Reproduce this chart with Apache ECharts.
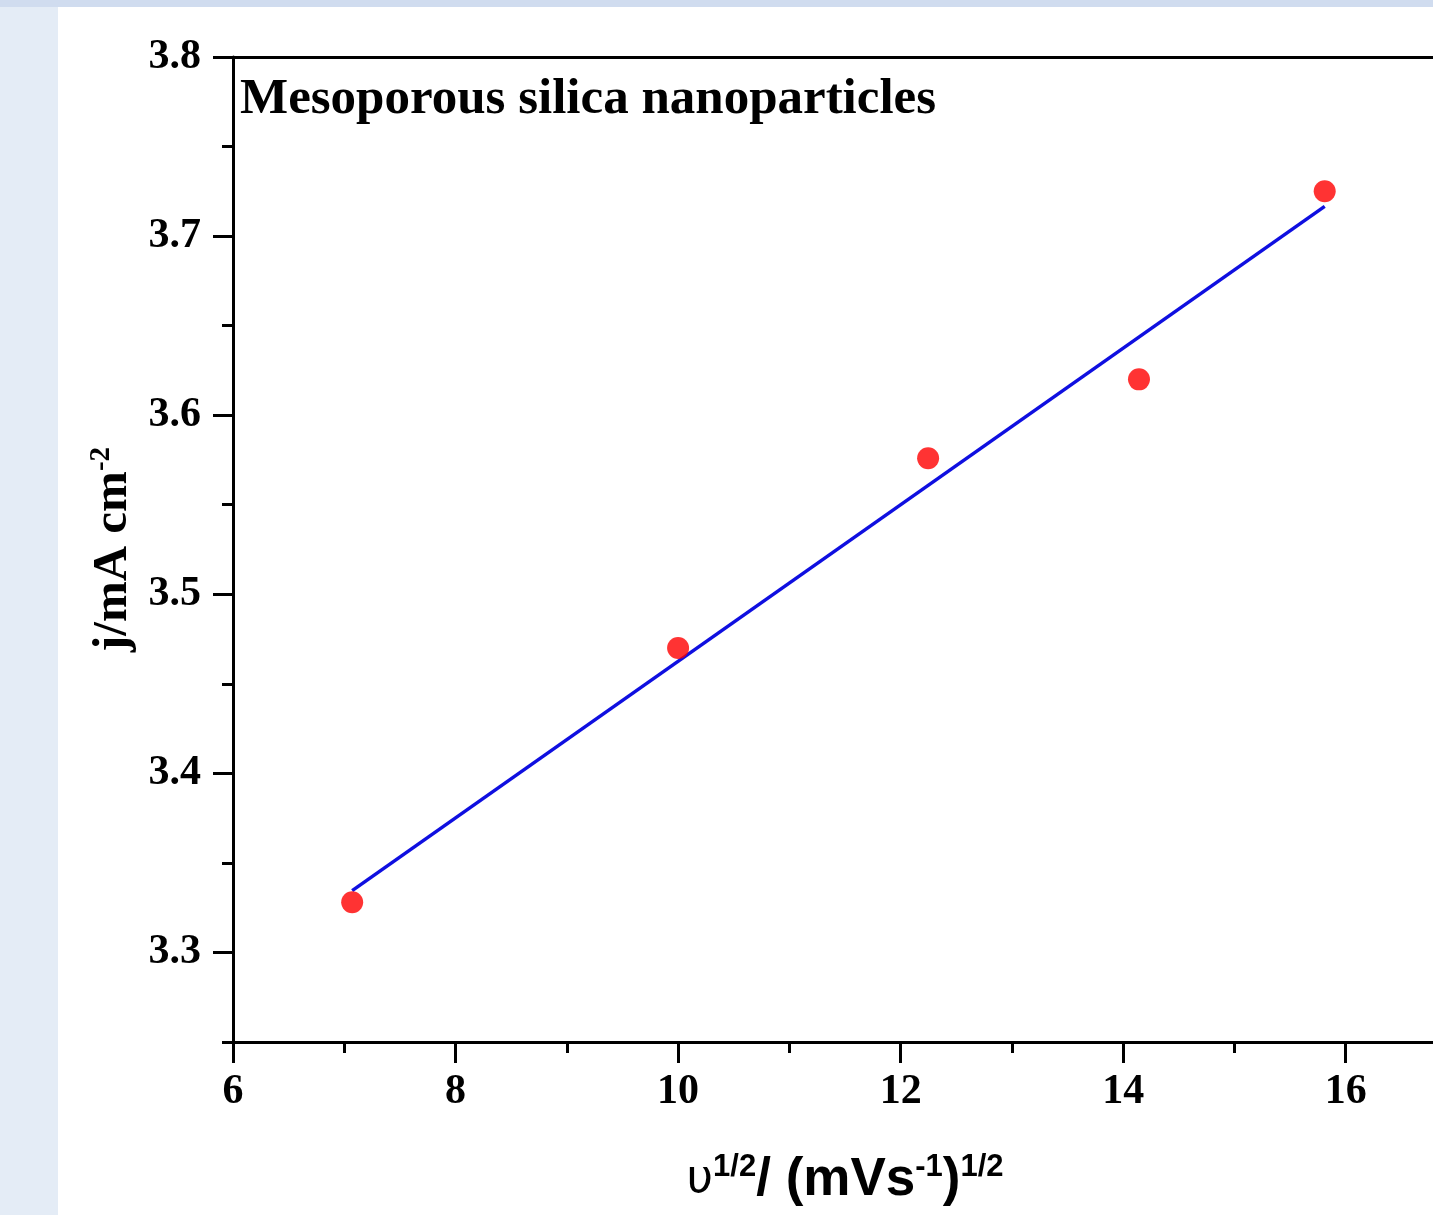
<!DOCTYPE html>
<html>
<head>
<meta charset="utf-8">
<title>Mesoporous silica nanoparticles</title>
<script src="https://cdn.jsdelivr.net/npm/echarts@6/dist/echarts.min.js"></script>
<style>
  html, body { margin: 0; padding: 0; background: #e4ecf6; }
  #chart { width: 1433px; height: 1215px; }
</style>
</head>
<body>
<div id="chart"></div>
<script>
// Square root of scan rate, (mV s^-1)^1/2
const sqrtScanRate = [7.071, 10.0, 12.247, 14.142, 15.811];
// Peak current density, mA cm^-2
const currentDensity = [3.328, 3.470, 3.576, 3.620, 3.725];
// Linear fit end points
const fitX = [7.071, 15.811];
const fitY = [3.3345, 3.7166];

// Axis ticks
const xMajorTicks = [6, 8, 10, 12, 14, 16];
const xMinorTicks = [7, 9, 11, 13, 15, 17];
const yMajorTicks = [3.3, 3.4, 3.5, 3.6, 3.7, 3.8];
const yMinorTicks = [3.25, 3.35, 3.45, 3.55, 3.65, 3.75];

const SERIF = '"Liberation Serif", "Times New Roman", serif';
const SANS = '"Liberation Sans", Arial, sans-serif';
const AXIS_W = 3;

const points = sqrtScanRate.map((x, i) => [x, currentDensity[i]]);
const fitLine = fitX.map((x, i) => [x, fitY[i]]);

const chart = echarts.init(document.getElementById('chart'));

const tickLabelStyle = {
  fontFamily: SERIF, fontWeight: 'bold', fontSize: 42, color: '#000'
};

chart.setOption({
  backgroundColor: '#e4ecf6',
  animation: false,
  graphic: [
    { type: 'rect', z: -10, shape: { x: 0, y: 0, width: 1433, height: 7 }, style: { fill: '#d0dcef' } },
    { type: 'rect', z: -10, shape: { x: 58, y: 7, width: 1375, height: 1208 }, style: { fill: '#ffffff' } }
  ],
  title: {
    text: 'Mesoporous silica nanoparticles',
    left: 240, top: 74, padding: 0,
    textStyle: { fontFamily: SERIF, fontWeight: 'bold', fontSize: 51, color: '#000' }
  },
  // the frame runs on past the right edge of the page (x max 17 is off-canvas)
  grid: { left: 233, top: 57, width: 1224, height: 985, containLabel: false, outerBoundsMode: 'none' },
  xAxis: [
    {
      type: 'value', min: 6, max: 17, interval: 1, position: 'bottom',
      axisLine: { show: true, onZero: false, lineStyle: { color: '#000', width: AXIS_W } },
      axisTick: { show: true, inside: false, length: 21, customValues: xMajorTicks, lineStyle: { color: '#000', width: AXIS_W } },
      axisLabel: { customValues: xMajorTicks, margin: 29, ...tickLabelStyle },
      splitLine: { show: false },
      name: '{u|υ}{s|1/2}{m|/ (mVs}{s|-1}{m|)}{s|1/2}',
      nameLocation: 'middle', nameGap: 110,
      nameTextStyle: {
        rich: {
          u: { fontFamily: '"DejaVu Sans", sans-serif', fontSize: 46, color: '#000', lineHeight: 56 },
          m: { fontFamily: SANS, fontWeight: 'bold', fontSize: 53, color: '#000', lineHeight: 56 },
          s: { fontFamily: SANS, fontWeight: 'bold', fontSize: 31, color: '#000', lineHeight: 56, verticalAlign: 'top' }
        }
      }
    },
    {
      type: 'value', min: 6, max: 17, interval: 1, position: 'bottom',
      axisLine: { show: false, onZero: false },
      axisTick: { show: true, inside: false, length: 11, customValues: xMinorTicks, lineStyle: { color: '#000', width: AXIS_W } },
      axisLabel: { show: false },
      splitLine: { show: false }
    },
    {
      type: 'value', min: 6, max: 17, position: 'top',
      axisLine: { show: true, onZero: false, lineStyle: { color: '#000', width: AXIS_W } },
      axisTick: { show: false }, axisLabel: { show: false }, splitLine: { show: false }
    }
  ],
  yAxis: [
    {
      type: 'value', min: 3.25, max: 3.8, interval: 0.05, position: 'left',
      axisLine: { show: true, onZero: false, lineStyle: { color: '#000', width: AXIS_W } },
      axisTick: { show: true, inside: false, length: 20, customValues: yMajorTicks, lineStyle: { color: '#000', width: AXIS_W } },
      axisLabel: { customValues: yMajorTicks, margin: 32, formatter: v => v.toFixed(1), ...tickLabelStyle },
      splitLine: { show: false },
      name: '{m|j/mA cm}{s|-2}',
      nameLocation: 'middle', nameGap: 94,
      nameTextStyle: {
        rich: {
          m: { fontFamily: SERIF, fontWeight: 'bold', fontSize: 49, color: '#000', lineHeight: 52 },
          s: { fontFamily: SERIF, fontWeight: 'bold', fontSize: 29, color: '#000', lineHeight: 52, verticalAlign: 'top' }
        }
      }
    },
    {
      type: 'value', min: 3.25, max: 3.8, interval: 0.05, position: 'left',
      axisLine: { show: false, onZero: false },
      axisTick: { show: true, inside: false, length: 11, customValues: yMinorTicks, lineStyle: { color: '#000', width: AXIS_W } },
      axisLabel: { show: false },
      splitLine: { show: false }
    }
  ],
  series: [
    {
      type: 'line', xAxisIndex: 0, yAxisIndex: 0, z: 2,
      data: fitLine, showSymbol: false, symbol: 'none',
      lineStyle: { color: '#0f0fe0', width: 3.5 }
    },
    {
      type: 'scatter', xAxisIndex: 0, yAxisIndex: 0, z: 3,
      data: points, symbol: 'circle', symbolSize: 22,
      itemStyle: { color: '#ff0000' }
    }
  ]
});
</script>
</body>
</html>
